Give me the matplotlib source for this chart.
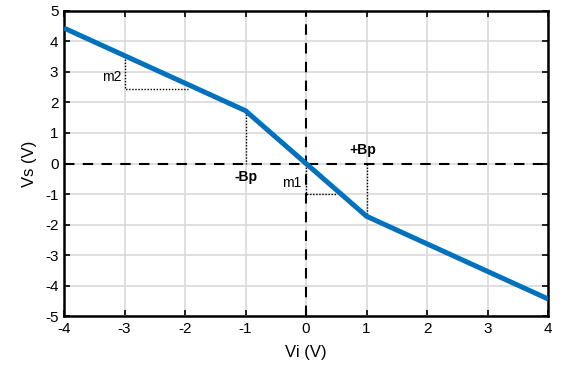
import matplotlib
matplotlib.use("Agg")
import matplotlib.pyplot as plt

plt.rcParams['font.family'] = ['Liberation Sans', 'DejaVu Sans']
plt.rcParams['axes.unicode_minus'] = False

vi = [-4, -1, 0, 1, 4]
vs = [4.44, 1.73, 0, -1.73, -4.44]

m2_tri_x = [-3, -3, -1.95]
m2_tri_y = [3.54, 2.44, 2.44]
m1_tri_x = [0, 0, 0.51]
m1_tri_y = [0, -1.0, -1.0]

fig = plt.figure(figsize=(5.73, 3.65), dpi=100)
ax = fig.add_axes([0.1117, 0.1342, 0.8447, 0.8357])

ax.set_xlim(-4, 4)
ax.set_ylim(-5, 5)
ax.set_xticks(range(-4, 5))
ax.set_yticks(range(-5, 6))
ax.grid(True, color='#d9d9d9', linewidth=1.2)
ax.set_axisbelow(True)

ax.axhline(0, color='black', linestyle=(0, (5, 4)), linewidth=1.5, zorder=2)
ax.axvline(0, color='black', linestyle=(0, (5, 4)), linewidth=1.5, zorder=2)

dot = dict(color='black', linestyle=(0, (1, 1.2)), linewidth=1.0, zorder=2)
ax.plot(m2_tri_x, m2_tri_y, **dot)
ax.plot(m1_tri_x, m1_tri_y, **dot)
ax.plot([vi[1], vi[1]], [vs[1], 0], **dot)
ax.plot([vi[3], vi[3]], [0, vs[3]], **dot)

ax.plot(vi, vs, color='#0072BD', linewidth=3.6, solid_capstyle='butt', zorder=3)

ax.text(-1, -0.2, '-Bp', fontsize=10, fontweight='bold', ha='center', va='top')
ax.text(0.93, 0.2, '+Bp', fontsize=10, fontweight='bold', ha='center', va='bottom')
ax.text(-0.08, -0.65, 'm1', fontsize=10, ha='right', va='center')
ax.text(-3.05, 2.85, 'm2', fontsize=10, ha='right', va='center')

ax.tick_params(direction='in', top=True, right=True, length=4, width=1.2, labelsize=11, colors='black', pad=4)
for s in ax.spines.values():
    s.set_linewidth(1.8)
ax.set_xlabel('Vi (V)', fontsize=12, labelpad=7)
ax.set_ylabel('Vs (V)', fontsize=12, labelpad=6)

fig.savefig('out.png', dpi=100)
